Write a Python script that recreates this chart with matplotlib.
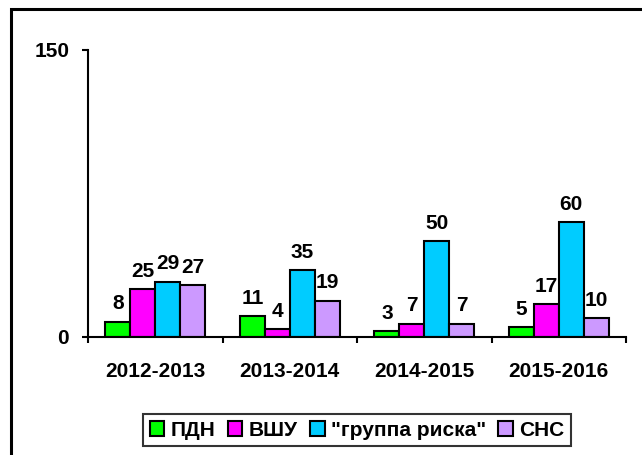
import numpy as np
from matplotlib import pyplot as plt
from matplotlib.patches import Rectangle

years = ["2012-2013", "2013-2014", "2014-2015", "2015-2016"]
series_names = ["ПДН", "ВШУ", "\"группа риска\"", "СНС"]
pdn = [8, 11, 3, 5]
vshu = [25, 4, 7, 17]
risk = [29, 35, 50, 60]
sns_vals = [27, 19, 7, 10]
colors = ["#00ff00", "#ff00ff", "#00ccff", "#cc99ff"]

plt.rcParams['font.family'] = ['Liberation Sans', 'DejaVu Sans']
plt.rcParams['font.weight'] = 'bold'
fs = 15

fig = plt.figure(figsize=(6.42, 4.55), dpi=100)
ax = fig.add_axes([88 / 642, 1 - 337 / 455, 538 / 642, 287 / 455])

# outer frame, cut off at the right and bottom
fig.patches.append(Rectangle((11 / 642, -0.1), 1.0, 1 - 9 / 455 + 0.1,
                             transform=fig.transFigure, fill=False,
                             edgecolor='black', linewidth=2.2))

x = np.arange(len(years))
width = 0.185
data = [pdn, vshu, risk, sns_vals]
for i, (vals, name, c) in enumerate(zip(data, series_names, colors)):
    pos = x + (i - 1.5) * width
    bars = ax.bar(pos, vals, width, color=c, edgecolor='black',
                  linewidth=1.5, label=name)
    for b, v in zip(bars, vals):
        ax.annotate(str(v), (b.get_x() + b.get_width() / 2, v),
                    xytext=(0, 6), textcoords='offset points',
                    ha='center', va='bottom', fontsize=fs, fontweight='bold')

ax.set_ylim(0, 150)
ax.set_xlim(-0.5, 3.5)
ax.set_yticks([0, 150])
ax.set_yticklabels(["0", "150"], fontsize=fs, fontweight='bold')
ax.set_xticks([-0.5, 0.5, 1.5, 2.5, 3.5])
ax.set_xticklabels([])
ax.set_xticks(x, minor=True)
ax.set_xticklabels(years, minor=True, fontsize=fs, fontweight='bold')
ax.tick_params(axis='x', which='minor', length=0, pad=18)
ax.tick_params(axis='x', which='major', direction='out', length=4.5, width=1.5)
ax.tick_params(axis='y', direction='out', length=4.5, width=1.5, pad=9)
ax.spines['top'].set_visible(False)
ax.spines['right'].set_visible(False)
ax.spines['left'].set_linewidth(1.5)
ax.spines['bottom'].set_linewidth(1.5)

leg = fig.legend(loc='center', bbox_to_anchor=(357 / 642, 1 - 430 / 455),
                 ncol=4, fontsize=fs, frameon=True, fancybox=False,
                 handlelength=0.7, handleheight=0.7, handletextpad=0.3,
                 columnspacing=0.6, borderpad=0.3)
leg.get_frame().set_edgecolor('black')
leg.get_frame().set_linewidth(1.5)
for t in leg.get_texts():
    t.set_fontweight('bold')

fig.savefig("out.png", dpi=100)
